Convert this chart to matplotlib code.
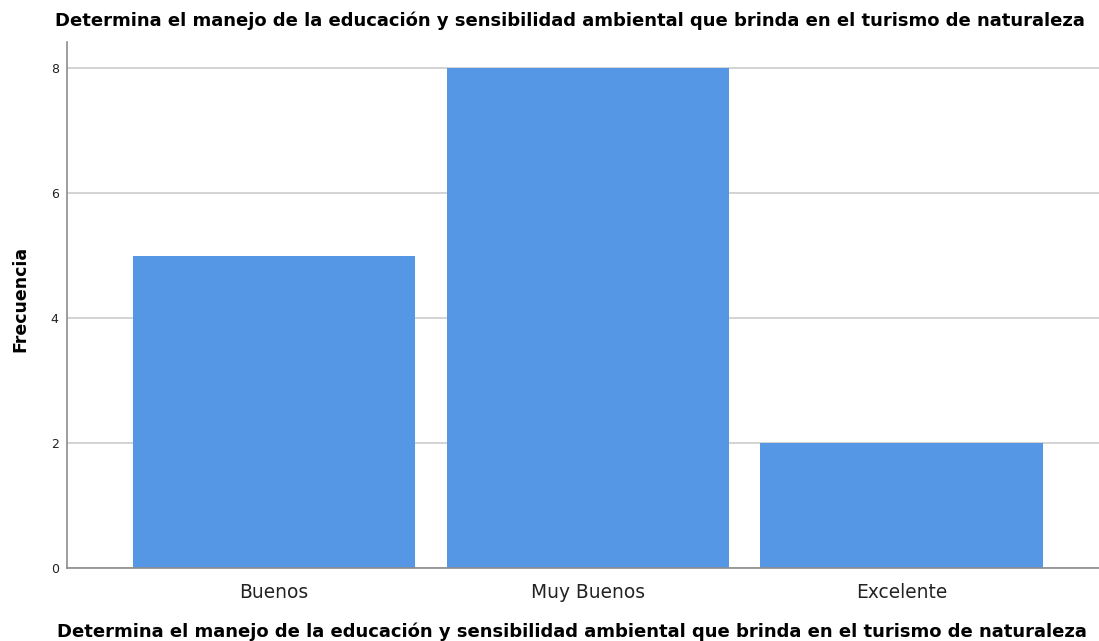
import matplotlib.pyplot as plt
import numpy as np

plt.rcParams['font.family'] = ['DejaVu Sans']

categorias = ['Buenos', 'Muy Buenos', 'Excelente']
frecuencias = [5, 8, 2]
titulo = 'Determina el manejo de la educación y sensibilidad ambiental que brinda en el turismo de naturaleza'

fig = plt.figure(figsize=(10.99, 6.41), dpi=100)
ax = fig.add_axes([67/1099, 73/641, 1032/1099, 526/641])

x = np.arange(len(categorias))
ax.bar(x, frecuencias, width=0.9, color='#5596e5', zorder=2)

ax.set_xlim(-0.66, 2.63)
ax.set_ylim(0, 8.42)
ax.set_yticks([0, 2, 4, 6, 8])
ax.set_xticks(x)
ax.set_xticklabels(categorias, fontsize=13.4, color='#222222')
ax.tick_params(axis='y', length=0, labelsize=9, pad=6, labelcolor='#222222')
ax.tick_params(axis='x', length=0, pad=11)
ax.grid(axis='y', color='#d0d0d0', linewidth=1.3, zorder=0)

for s in ['top', 'right']:
    ax.spines[s].set_visible(False)
for s in ['left', 'bottom']:
    ax.spines[s].set_color('#8c8c8c')
    ax.spines[s].set_linewidth(1.2)

# titulo arriba, nombre de la variable abajo y etiqueta del eje y
fig.text(0.519, 0.968, titulo, ha='center', va='center', fontsize=13, fontweight='bold')
fig.text(0.52, 4/641, titulo, ha='center', va='baseline', fontsize=13, fontweight='bold')
fig.text(20/1099, 1 - 299/641, 'Frecuencia', ha='center', va='center',
         rotation=90, fontsize=12.5, fontweight='bold')

fig.savefig('out.png', dpi=100)
